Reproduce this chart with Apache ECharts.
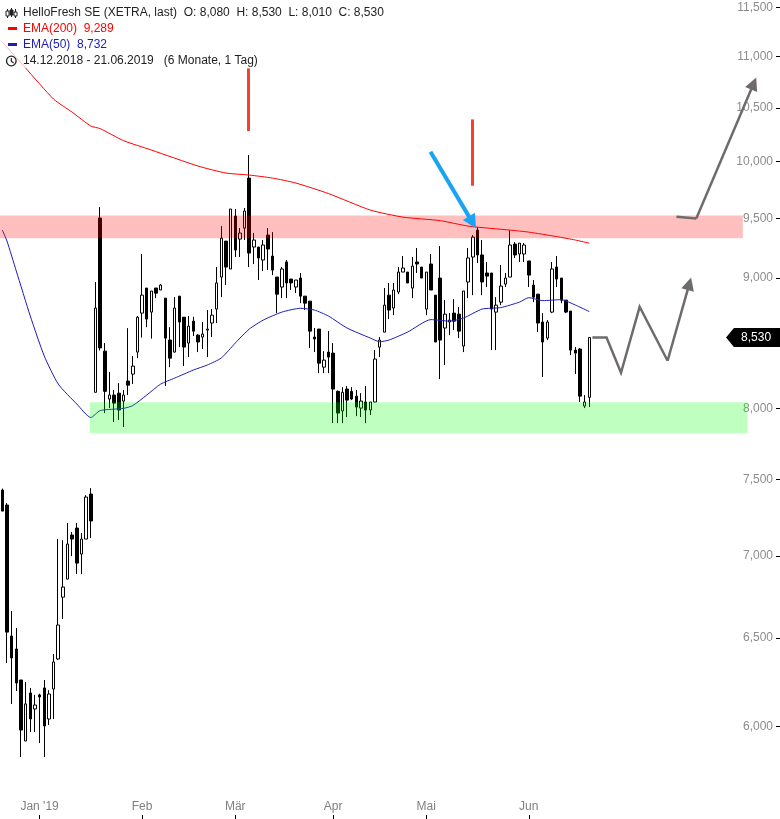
<!DOCTYPE html>
<html><head><meta charset="utf-8">
<script src="https://cdn.jsdelivr.net/npm/echarts@6.0.0/dist/echarts.min.js"></script>
<style>html,body{margin:0;padding:0;background:#fff}#c{width:780px;height:819px}</style>
</head><body><div id="c"></div>
<script>
// ---------- data ----------
const dates = [
'2018-12-14','2018-12-17','2018-12-18','2018-12-19','2018-12-20','2018-12-21','2018-12-27','2018-12-28',
'2019-01-02','2019-01-03','2019-01-04','2019-01-07','2019-01-08','2019-01-09','2019-01-10','2019-01-11','2019-01-14','2019-01-15','2019-01-16','2019-01-17','2019-01-18','2019-01-21','2019-01-22','2019-01-23','2019-01-24','2019-01-25','2019-01-28','2019-01-29','2019-01-30','2019-01-31',
'2019-02-01','2019-02-04','2019-02-05','2019-02-06','2019-02-07','2019-02-08','2019-02-11','2019-02-12','2019-02-13','2019-02-14','2019-02-15','2019-02-18','2019-02-19','2019-02-20','2019-02-21','2019-02-22','2019-02-25','2019-02-26','2019-02-27','2019-02-28',
'2019-03-01','2019-03-04','2019-03-05','2019-03-06','2019-03-07','2019-03-08','2019-03-11','2019-03-12','2019-03-13','2019-03-14','2019-03-15','2019-03-18','2019-03-19','2019-03-20','2019-03-21','2019-03-22','2019-03-25','2019-03-26','2019-03-27','2019-03-28','2019-03-29',
'2019-04-01','2019-04-02','2019-04-03','2019-04-04','2019-04-05','2019-04-08','2019-04-09','2019-04-10','2019-04-11','2019-04-12','2019-04-15','2019-04-16','2019-04-17','2019-04-18','2019-04-23','2019-04-24','2019-04-25','2019-04-26','2019-04-29','2019-04-30',
'2019-05-02','2019-05-03','2019-05-06','2019-05-07','2019-05-08','2019-05-09','2019-05-10','2019-05-13','2019-05-14','2019-05-15','2019-05-16','2019-05-17','2019-05-20','2019-05-21','2019-05-22','2019-05-23','2019-05-24','2019-05-27','2019-05-28','2019-05-29','2019-05-30','2019-05-31',
'2019-06-03','2019-06-04','2019-06-05','2019-06-06','2019-06-07','2019-06-11','2019-06-12','2019-06-13','2019-06-14','2019-06-17','2019-06-18','2019-06-19','2019-06-20','2019-06-21'
];
const openPrices = [
7430,7330,6511,6435,6257,5921,6184,6095,6173,6212,
6040,6206,6377,6744,6855,7134,7179,7012,7108,7403,
8117,9503,8425,8068,8097,8111,8053,8200,8252,8418,
8720,8920,8728,8920,8904,8839,8510,8418,8855,8688,
8487,8657,8548,8533,8587,8642,8752,9009,9307,9075,
9520,9324,9417,9853,9257,9257,9149,9358,9182,9009,
8928,9133,8993,8928,9001,8855,8815,8533,8595,8304,
8418,8410,8124,7981,8141,8124,8089,8002,8046,7988,
8046,8456,8571,8863,8760,8888,9050,9050,8920,9133,
9091,8752,9116,8863,9001,8603,8650,8720,8712,8464,
8969,9174,9400,9191,9042,9042,8728,8807,8952,9009,
9282,9199,9199,9141,8944,8871,8650,8525,8728,9091,
9001,8823,8736,8433,8441,8017,8080];
const highPrices = [
7440,7343,6660,6558,6257,6246,6212,6173,6180,6257,
6200,6406,7108,7101,7212,7153,7212,7147,7396,7443,
8969,9598,8487,8267,8134,8185,8134,8602,8387,8697,
9199,8920,8896,8920,8952,8839,8610,8847,8855,8688,
8697,8691,8556,8650,8744,8752,9091,9434,9307,9581,
9581,9417,9590,10060,9375,9257,9316,9417,9383,9009,
9091,9149,8993,8985,9042,8855,8815,8603,8595,8425,
8579,8487,8131,8155,8163,8155,8134,8111,8163,8046,
8433,8533,8920,8961,8961,9091,9182,9050,9174,9249,
9091,9050,9199,8863,9265,8823,8720,8831,8768,8896,
9249,9358,9425,9316,9133,9042,8847,9108,9042,9400,
9299,9290,9290,9141,8985,8871,8720,8665,9133,9182,
9001,8823,8736,8456,8449,8097,8530];
const lowPrices = [
7290,6354,6123,6195,5836,5921,5969,5969,5910,5836,
6007,6040,6371,6612,6855,6999,6886,6886,7108,7114,
8117,8430,7966,8002,7902,7916,7866,8097,8178,8372,
8529,8610,8521,8839,8904,8163,8304,8415,8456,8312,
8380,8541,8418,8441,8380,8533,8642,8847,8944,9075,
9174,9174,9316,9091,9116,8985,9058,9066,9025,8720,
8839,8839,8904,8879,8799,8744,8449,8418,8259,8259,
8259,7894,7894,7894,7937,8060,7944,7937,7894,7952,
8046,8380,8571,8673,8704,8871,9050,8961,8839,9042,
9001,8704,8904,8495,8215,8320,8548,8587,8525,8418,
8839,8863,9124,8863,8928,8433,8433,8783,8928,9009,
9166,9133,9133,8928,8807,8571,8230,8510,8720,8928,
8799,8720,8395,8252,8046,8002,8010];
const closePrices = [
7290,6534,6383,6240,5980,6123,6040,6117,6162,6002,
6178,6360,6576,6806,7076,7108,6955,7108,7383,7225,
8760,8450,8124,8097,8038,7988,8097,8170,8312,8688,
8863,8673,8896,8879,8944,8525,8372,8760,8650,8456,
8618,8579,8495,8556,8595,8704,8961,9332,9091,9581,
9232,9375,9564,9207,9316,9166,9274,9240,9066,8871,
9075,8961,8961,8985,8855,8799,8579,8518,8334,8357,
8380,8141,7966,8117,8060,8068,8009,8053,7988,8046,
8365,8510,8783,8744,8904,9050,9083,8961,9099,9116,
9001,9050,8904,8495,8510,8712,8665,8657,8579,8896,
9166,9341,9191,8969,9017,8752,8783,8936,9001,9274,
9191,9290,9274,9025,8847,8642,8495,8650,9075,8993,
8823,8728,8433,8410,8089,8046,8530];
const ema200 = [
['2018-12-14',11143],['2018-12-21',10884],['2019-01-07',10583],['2019-01-11',10458],['2019-01-17',10328],
['2019-01-21',10304],['2019-01-28',10193],['2019-02-05',10106],['2019-02-19',9961],['2019-02-27',9898],
['2019-03-06',9880],['2019-03-13',9853],['2019-03-20',9809],['2019-03-29',9716],['2019-04-11',9572],
['2019-04-24',9511],['2019-05-07',9481],['2019-05-15',9434],['2019-05-28',9400],['2019-06-03',9383],
['2019-06-12',9345],['2019-06-18',9316],['2019-06-21',9289]];
const ema50 = [
['2018-12-14',9401],['2018-12-17',9307],['2018-12-19',9058],['2018-12-27',8697],['2019-01-03',8388],
['2019-01-08',8178],['2019-01-14',8031],['2019-01-17',7934],['2019-01-21',7984],['2019-01-28',8000],
['2019-01-30',8020],['2019-02-04',8097],['2019-02-07',8178],['2019-02-12',8222],['2019-02-18',8282],
['2019-02-21',8320],['2019-02-26',8373],['2019-03-01',8487],['2019-03-06',8595],['2019-03-11',8665],
['2019-03-15',8728],['2019-03-21',8758],['2019-03-26',8744],['2019-03-29',8697],['2019-04-04',8603],
['2019-04-11',8525],['2019-04-15',8497],['2019-04-17',8510],['2019-04-25',8572],['2019-05-03',8669],
['2019-05-09',8657],['2019-05-14',8681],['2019-05-20',8752],['2019-05-24',8764],['2019-05-30',8807],
['2019-06-03',8843],['2019-06-06',8819],['2019-06-13',8827],['2019-06-18',8784],['2019-06-21',8732]];
const priceTicks = [6000,6500,7000,7500,8000,8500,9000,9500,10000,10500,11000,11500];
const monthTickDates = ['2019-01-02','2019-02-01','2019-03-01','2019-04-01','2019-05-02','2019-06-03'];
const monthTickLabels = ["Jan '19",'Feb','Mär','Apr','Mai','Jun'];
// zones (price) and annotation paths in (trading-day index, price)
const resistanceZone = [9330, 9526];
const supportZone = [7823, 8044];
const redMarkers = [[[52.75,10881],[52.75,10281]], [[100.94,10390],[100.94,9785]]];
const blueArrow = [[91.9,10090],[100.92,9466]];
const projPath1 = [[126.66,8530],[129.7,8530],[132.8,8262],[136.8,8770],[142.8,8352]];
const projHead1 = [[142.8,8352],[147.47,8954]];
const projPath2 = [[144.7,9514],[148.96,9500]];
const projHead2 = [[148.96,9500],[161.28,10733]];
const lastClose = 8530;

// ---------- build ----------
const SLOTS = 167;
const cats = dates.slice();
for (let k = dates.length; k < SLOTS; k++) cats.push('pad' + k);
const candleData = dates.map((d, i) => [openPrices[i], closePrices[i], lowPrices[i], highPrices[i]]);
const fmt = v => String(Math.round(v)).replace(/\B(?=(\d{3})+(?!\d))/g, ',');
const isMonth = (idx, val) => monthTickDates.indexOf(val) >= 0;
const FONT = '"Liberation Sans", Arial, sans-serif';

const chart = echarts.init(document.getElementById('c'), null, {renderer: 'canvas'});
chart.setOption({
  animation: false,
  backgroundColor: '#fff',
  grid: {left: -2.74, right: 2, top: 0, bottom: 0, containLabel: false},
  xAxis: [{
    type: 'category', data: cats, boundaryGap: true,
    axisLine: {show: false, onZero: false},
    axisTick: {show: true, inside: true, length: 4, alignWithLabel: true, interval: isMonth, lineStyle: {color: '#000'}},
    axisLabel: {inside: true, interval: isMonth, margin: 6, color: '#808080', fontSize: 12, fontFamily: FONT,
      formatter: v => monthTickLabels[monthTickDates.indexOf(v)] || ''},
    splitLine: {show: false}
  }, {
    type: 'value', min: -0.5, max: SLOTS - 0.5, show: false, axisLine: {onZero: false}
  }],
  yAxis: [{
    type: 'log', logBase: 10, position: 'right', offset: 2,
    min: 5517.6, max: 11575.5,
    axisLine: {show: false, onZero: false},
    axisTick: {show: true, inside: true, length: 4, customValues: priceTicks, lineStyle: {color: '#000'}},
    axisLabel: {inside: true, margin: 7, customValues: priceTicks, color: '#8c8c8c', fontSize: 12, fontFamily: FONT, formatter: v => fmt(v)},
    splitLine: {show: false}
  }],
  series: [
    {
      type: 'candlestick', name: 'HelloFresh', xAxisIndex: 0, yAxisIndex: 0, data: candleData, barWidth: 3,
      itemStyle: {color: '#fff', color0: '#000', borderColor: '#000', borderColor0: '#000', borderColorDoji: '#000', borderWidth: 1},
      z: 3, silent: true
    },
    {type: 'line', name: 'EMA(200)', xAxisIndex: 0, yAxisIndex: 0, data: ema200, showSymbol: false, smooth: 0.2,
      lineStyle: {color: '#ff0000', width: 1}, z: 4, silent: true},
    {type: 'line', name: 'EMA(50)', xAxisIndex: 0, yAxisIndex: 0, data: ema50, showSymbol: false, smooth: 0.2,
      lineStyle: {color: '#1c1cb5', width: 1}, z: 4, silent: true},
    {
      type: 'line', name: 'zones', xAxisIndex: 1, yAxisIndex: 0, data: [], z: 5, silent: true,
      markArea: {silent: true, z: 5, data: [
        [{coord: [-0.5, resistanceZone[0]], itemStyle: {color: 'rgba(255,0,0,0.25)'}}, {coord: [158.95, resistanceZone[1]]}],
        [{coord: [18.76, supportZone[0]], itemStyle: {color: 'rgba(0,255,0,0.25)'}}, {coord: [159.94, supportZone[1]]}]
      ]}
    },
    {type: 'lines', coordinateSystem: 'cartesian2d', xAxisIndex: 1, yAxisIndex: 0, z: 6, silent: true,
      data: redMarkers.map(c => ({coords: c})), symbol: ['none', 'none'],
      lineStyle: {color: '#f5402c', width: 3, opacity: 1}},
    {type: 'lines', coordinateSystem: 'cartesian2d', xAxisIndex: 1, yAxisIndex: 0, z: 7, silent: true,
      data: [{coords: blueArrow}], symbol: ['none', 'triangle'], symbolSize: 14,
      lineStyle: {color: '#1aa3f5', width: 4, opacity: 1}},
    {type: 'lines', coordinateSystem: 'cartesian2d', xAxisIndex: 1, yAxisIndex: 0, z: 7, silent: true, polyline: true,
      data: [{coords: projPath1}, {coords: projPath2}],
      lineStyle: {color: '#6f6b6b', width: 2.5, opacity: 1, join: 'miter'}},
    {type: 'lines', coordinateSystem: 'cartesian2d', xAxisIndex: 1, yAxisIndex: 0, z: 7, silent: true,
      data: [{coords: projHead1}, {coords: projHead2}], symbol: ['none', 'triangle'], symbolSize: 13,
      lineStyle: {color: '#6f6b6b', width: 2.5, opacity: 1}},
    {
      type: 'line', name: 'lastTag', xAxisIndex: 1, yAxisIndex: 0, data: [], z: 20, silent: true,
      markPoint: {silent: true, z: 20, symbol: 'path://M0,9L9,0L62,0L62,18L9,18Z', symbolSize: [54, 19], symbolKeepAspect: false,
        itemStyle: {color: '#000'},
        label: {show: true, color: '#fff', fontSize: 12, fontFamily: FONT, offset: [3, 0], formatter: () => fmt(lastClose)},
        data: [{coord: [161.15, lastClose]}]}
    }
  ],
  graphic: [
    {type: 'rect', z: 100, silent: true, shape: {x: 0, y: 0, width: 385, height: 68}, style: {fill: 'rgba(255,255,255,0.7)'}},
    // candlestick icon
    {type: 'group', z: 101, children: [
      {type: 'line', shape: {x1: 7.5, y1: 9, x2: 7.5, y2: 18}, style: {stroke: '#222', lineWidth: 1}, z: 101},
      {type: 'rect', shape: {x: 6, y: 11, width: 3, height: 5}, style: {fill: '#fff', stroke: '#222', lineWidth: 1}, z: 101},
      {type: 'line', shape: {x1: 11.5, y1: 8, x2: 11.5, y2: 17}, style: {stroke: '#222', lineWidth: 1}, z: 101},
      {type: 'rect', shape: {x: 10, y: 10, width: 3, height: 5}, style: {fill: '#222', stroke: '#222', lineWidth: 1}, z: 101},
      {type: 'line', shape: {x1: 15.5, y1: 9, x2: 15.5, y2: 18}, style: {stroke: '#222', lineWidth: 1}, z: 101},
      {type: 'rect', shape: {x: 14, y: 12, width: 3, height: 4}, style: {fill: '#fff', stroke: '#222', lineWidth: 1}, z: 101}
    ]},
    {type: 'text', z: 101, x: 23, y: 13, style: {text: 'HelloFresh SE (XETRA, last)  O: ' + fmt(openPrices[126]) + '  H: ' + fmt(highPrices[126]) + '  L: ' + fmt(lowPrices[126]) + '  C: ' + fmt(closePrices[126]),
      fill: '#222', font: '12px ' + FONT, verticalAlign: 'middle'}},
    {type: 'rect', z: 101, shape: {x: 8, y: 27, width: 9, height: 3}, style: {fill: '#ff0000'}},
    {type: 'text', z: 101, x: 23, y: 29, style: {text: 'EMA(200)  ' + fmt(ema200[ema200.length - 1][1]), fill: '#ff0000', font: '12px ' + FONT, verticalAlign: 'middle'}},
    {type: 'rect', z: 101, shape: {x: 8, y: 43, width: 9, height: 3}, style: {fill: '#1c1cb5'}},
    {type: 'text', z: 101, x: 23, y: 45, style: {text: 'EMA(50)  ' + fmt(ema50[ema50.length - 1][1]), fill: '#1c1cb5', font: '12px ' + FONT, verticalAlign: 'middle'}},
    {type: 'circle', z: 101, shape: {cx: 11.3, cy: 61, r: 4.8}, style: {fill: 'none', stroke: '#222', lineWidth: 1.3}},
    {type: 'polyline', z: 101, shape: {points: [[11.3, 58], [11.3, 61.3], [13.6, 63]]}, style: {stroke: '#222', lineWidth: 1.2, fill: 'none'}},
    {type: 'text', z: 101, x: 23, y: 61, style: {text: '14.12.2018 - 21.06.2019   (6 Monate, 1 Tag)', fill: '#222', font: '12px ' + FONT, verticalAlign: 'middle'}}
  ]
});
</script>
</body></html>
